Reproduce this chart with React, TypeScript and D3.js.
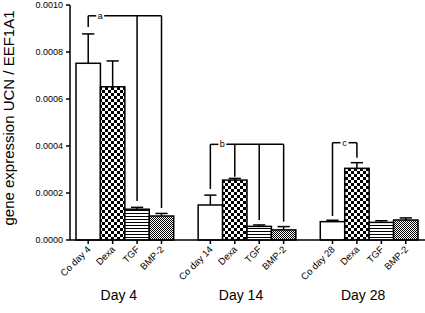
import React from "react";
import * as d3 from "d3";

const groups = ["Day 4", "Day 14", "Day 28"];
const categories = [
  ["Co day 4", "Dexa", "TGF", "BMP-2"],
  ["Co day 14", "Dexa", "TGF", "BMP-2"],
  ["Co day 28", "Dexa", "TGF", "BMP-2"],
];
const means = [
  [0.000752, 0.000652, 0.000131, 0.000102],
  [0.000149, 0.000255, 0.000058, 0.000043],
  [0.000078, 0.000305, 0.000075, 0.000085],
];
const errors = [
  [0.000125, 0.00011, 0.000008, 0.000011],
  [0.000042, 0.000007, 0.000006, 0.000014],
  [0.000006, 0.000024, 0.000007, 0.000009],
];
const yTicks = [0, 0.0002, 0.0004, 0.0006, 0.0008, 0.001];
const yLabel = "gene expression UCN / EEF1A1";

// significance brackets: group, level, leg (bar index -> lower end value)
const bracketLabels = ["a", "b", "c"];
const bracketGroups = [0, 1, 2];
const bracketLevels = [0.000954, 0.000407, 0.000414];
const bracketLegs: [number, number][][] = [
  [[0, 0.000906], [2, 0.000166], [3, 0.000136]],
  [[0, 0.000217], [1, 0.000269], [2, 0.000085], [3, 0.000078]],
  [[0, 0.000102], [1, 0.00035]],
];

const fills = ["#fff", "url(#checker)", "url(#hstripes)", "url(#finechecker)"];

export default function App() {
  const W = 425, H = 313;
  const axisX = 70;
  const y = d3.scaleLinear().domain([0, 0.001]).range([240, 5]);
  // 14 slots: 4 bars, gap, 4 bars, gap, 4 bars
  const slots = d3.range(14).map(String);
  const x = d3.scaleBand().domain(slots).range([76, 418]).paddingInner(0).paddingOuter(0);
  const bw = x.bandwidth();
  const slotOf = (g: number, i: number) => String(g * 5 + i);
  const cx = (g: number, i: number) => (x(slotOf(g, i)) as number) + bw / 2;
  const fmt = d3.format(".4f");
  const font = "Liberation Sans, Arial, sans-serif";

  return (
    <svg width={W} height={H} style={{ position: "absolute", left: 0, top: 0, background: "#fff" }} fontFamily={font}>
      <defs>
        <pattern id="checker" width={6} height={6} patternUnits="userSpaceOnUse">
          <rect width={6} height={6} fill="#fff" />
          <rect width={3} height={3} fill="#000" />
          <rect x={3} y={3} width={3} height={3} fill="#000" />
        </pattern>
        <pattern id="hstripes" width={4} height={3} patternUnits="userSpaceOnUse">
          <rect width={4} height={3} fill="#fff" />
          <rect width={4} height={1} fill="#000" />
        </pattern>
        <pattern id="finechecker" width={2} height={2} patternUnits="userSpaceOnUse">
          <rect width={2} height={2} fill="#fff" />
          <rect width={1} height={1} fill="#000" />
          <rect x={1} y={1} width={1} height={1} fill="#000" />
        </pattern>
      </defs>

      {/* bars and error bars */}
      {means.map((row, g) =>
        row.map((v, i) => {
          const x0 = x(slotOf(g, i)) as number;
          const top = y(v);
          const et = y(v + errors[g][i]);
          const c = x0 + bw / 2;
          return (
            <g key={`b${g}-${i}`}>
              <line x1={c} x2={c} y1={top} y2={et} stroke="#000" strokeWidth={1.5} />
              <line x1={c - bw / 4} x2={c + bw / 4} y1={et} y2={et} stroke="#000" strokeWidth={1.5} />
              <rect x={x0} y={top} width={bw} height={y(0) - top} fill={fills[i]} stroke="#000" strokeWidth={1.5} />
            </g>
          );
        })
      )}

      {/* brackets */}
      {bracketLabels.map((lab, k) => {
        const g = bracketGroups[k];
        const ly = y(bracketLevels[k]);
        const legs = bracketLegs[k];
        const xs = legs.map((l) => cx(g, l[0]));
        const x1 = d3.min(xs) as number;
        const x2 = d3.max(xs) as number;
        const lx = x1 + 12;
        return (
          <g key={`br${k}`}>
            <line x1={x1} x2={lx - 4} y1={ly} y2={ly} stroke="#000" strokeWidth={1.5} />
            <line x1={lx + 4} x2={x2} y1={ly} y2={ly} stroke="#000" strokeWidth={1.5} />
            {legs.map((l, j) => (
              <line key={j} x1={cx(g, l[0])} x2={cx(g, l[0])} y1={ly} y2={y(l[1])} stroke="#000" strokeWidth={1.5} />
            ))}
            <text x={lx} y={ly + 3} fontSize={9} textAnchor="middle">{lab}</text>
          </g>
        );
      })}

      {/* y axis */}
      <line x1={axisX} x2={axisX} y1={y(0.001)} y2={y(0)} stroke="#000" strokeWidth={1.5} />
      {yTicks.map((t) => (
        <g key={`yt${t}`}>
          <line x1={axisX - 4} x2={axisX} y1={y(t)} y2={y(t)} stroke="#000" strokeWidth={1.5} />
          <text x={axisX - 7} y={y(t) + 3} fontSize={9} textAnchor="end" fill="#000">{fmt(t)}</text>
        </g>
      ))}
      <text transform={`translate(14,118) rotate(-90)`} fontSize={15} textAnchor="middle">{yLabel}</text>

      {/* x axis */}
      <line x1={axisX} x2={W} y1={y(0)} y2={y(0)} stroke="#000" strokeWidth={1.5} />
      {categories.map((row, g) =>
        row.map((lab, i) => {
          const c = cx(g, i);
          return (
            <g key={`xt${g}-${i}`}>
              <line x1={c} x2={c} y1={y(0)} y2={y(0) + 4} stroke="#000" strokeWidth={1.5} />
              <text transform={`translate(${c + 3},${y(0) + 10}) rotate(-45)`} fontSize={9.5} textAnchor="end">{lab}</text>
            </g>
          );
        })
      )}
      {groups.map((gl, g) => (
        <text key={gl} x={(cx(g, 0) + cx(g, 3)) / 2 - 6} y={300} fontSize={14} textAnchor="middle">{gl}</text>
      ))}
    </svg>
  );
}
